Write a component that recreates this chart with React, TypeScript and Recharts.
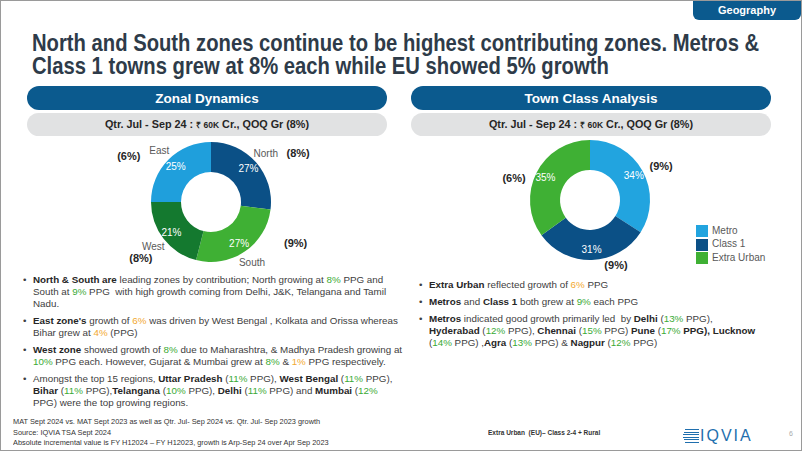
import React from "react";
import { PieChart, Pie, Cell, Legend } from "recharts";

// zonal split, clockwise from 12 o'clock
const zoneNames = ["North", "South", "West", "East"];
const zoneShare = [27, 27, 21, 25];
const zoneGrowth = [8, 9, 8, 6];

// town class split
const townNames = ["Metro", "Class 1", "Extra Urban"];
const townShare = [34, 31, 35];
const townGrowth = [9, 9, 6];

const zoneColors = ["#0b5086", "#3fb034", "#14792f", "#1f9fdc"];
const townColors = ["#22a4df", "#0b5086", "#3fb034"];

// where the growth call-outs sit (radius + turn from the slice middle)
const zoneGrowthPos = [
  { r: 100, turn: -12 },
  { r: 94, turn: 30 },
  { r: 90, turn: 1 },
  { r: 94, turn: 16 },
];
const townGrowthPos = [
  { r: 79, turn: -3 },
  { r: 70, turn: 20 },
  { r: 79, turn: 11 },
];

const zoneData = zoneNames.map((name, i) => ({ name, value: zoneShare[i], growth: zoneGrowth[i] }));
const townData = townNames.map((name, i) => ({ name, value: townShare[i], growth: townGrowth[i] }));

const BLUE = "#0b5a8e";
const GREEN = "#3aaa35";
const ORANGE = "#f2a930";
const TEXT = "#404040";
const SANS = '"Liberation Sans", Arial, sans-serif';

const RAD = Math.PI / 180;
function polar(cx: number, cy: number, r: number, deg: number) {
  return [cx + r * Math.cos(-deg * RAD), cy + r * Math.sin(-deg * RAD)];
}

function makeLabel(showName: boolean, pos: { r: number; turn: number }[]) {
  return (p: any) => {
    const { cx, cy, midAngle, index, payload } = p;
    const [ix, iy] = polar(cx, cy, 50, midAngle);
    const [nx, ny] = polar(cx, cy, 73, midAngle);
    const g = pos[index];
    const [gx, gy] = polar(cx, cy, g.r, midAngle + g.turn);
    return (
      <g key={`lbl-${index}`}>
        <text x={ix} y={iy} fill="#fff" fontSize={10} fontFamily={SANS} textAnchor="middle" dominantBaseline="central">
          {payload.value}%
        </text>
        {showName && (
          <text x={nx} y={ny} fill="#595959" fontSize={10} fontFamily={SANS} textAnchor="middle" dominantBaseline="central">
            {payload.name}
          </text>
        )}
        <text x={gx} y={gy} fill="#262626" fontSize={11} fontWeight="bold" fontFamily={SANS} textAnchor="middle" dominantBaseline="central">
          ({payload.growth}%)
        </text>
      </g>
    );
  };
}

const B = ({ children }: { children: React.ReactNode }) => <b style={{ color: "#262626" }}>{children}</b>;
const G = ({ children }: { children: React.ReactNode }) => <span style={{ color: GREEN }}>{children}</span>;
const O = ({ children }: { children: React.ReactNode }) => <span style={{ color: ORANGE }}>{children}</span>;

function Bullet({ children }: { children: React.ReactNode }) {
  return (
    <div style={{ display: "flex", marginBottom: 5 }}>
      <span style={{ width: 10, flex: "none" }}>•</span>
      <div style={{ whiteSpace: "nowrap" }}>{children}</div>
    </div>
  );
}

function Pill({ left, title }: { left: number; title: string }) {
  return (
    <>
      <div
        style={{
          position: "absolute", left, top: 85, width: 360, height: 24, borderRadius: 12,
          background: BLUE, color: "#fff", fontWeight: "bold", fontSize: 13.5,
          display: "flex", alignItems: "center", justifyContent: "center",
        }}
      >
        {title}
      </div>
      <div
        style={{
          position: "absolute", left, top: 112, width: 360, height: 23, borderRadius: 12,
          background: "#e1e2e3", color: "#262626", fontWeight: "bold", fontSize: 10.8,
          lineHeight: "23px", textAlign: "center", whiteSpace: "nowrap",
        }}
      >
        Qtr. Jul - Sep 24 : <span style={{ fontSize: 8.5 }}>₹ 60K</span> Cr., QOQ Gr (8%)
      </div>
    </>
  );
}

// narrow-looking text: no condensed face installed, so squeeze horizontally
const squeeze = (k: number): React.CSSProperties => ({ transform: `scaleX(${k})`, transformOrigin: "left top" });

const titleLine: React.CSSProperties = {
  fontWeight: "bold", fontSize: 24, lineHeight: "23px", height: 23, color: "#2e3b49", whiteSpace: "nowrap",
};

export default function App() {
  return (
    <div
      style={{
        position: "relative", width: 802, height: 451, boxSizing: "border-box",
        border: "1px solid #9a9a9a", background: "#fff", fontFamily: SANS, color: TEXT, overflow: "hidden",
      }}
    >
      <style>{"body{margin:0}"}</style>

      {/* tab */}
      <div
        style={{
          position: "absolute", left: 692, top: -1, width: 108, height: 20,
          background: BLUE, borderRadius: "0 0 6px 6px", color: "#fff", fontWeight: "bold",
          fontSize: 11, display: "flex", alignItems: "center", justifyContent: "center",
        }}
      >
        Geography
      </div>

      {/* title */}
      <div style={{ position: "absolute", left: 31, top: 30, ...squeeze(0.843) }}>
        <div style={titleLine}>North and South zones continue to be highest contributing zones. Metros &amp;</div>
        <div style={titleLine}>Class 1 towns grew at 8% each while EU showed 5% growth</div>
      </div>

      <Pill left={26} title="Zonal Dynamics" />
      <Pill left={410} title="Town Class Analysis" />

      {/* zonal donut */}
      <div style={{ position: "absolute", left: 20, top: 135 }}>
        <PieChart width={380} height={140}>
          <Pie
            data={zoneData}
            dataKey="value"
            nameKey="name"
            cx={185}
            cy={61}
            innerRadius={30}
            outerRadius={60}
            startAngle={90}
            endAngle={-270}
            stroke="none"
            labelLine={false}
            label={makeLabel(true, zoneGrowthPos)}
            isAnimationActive={false}
          >
            {zoneData.map((d, i) => (
              <Cell key={d.name} fill={zoneColors[i]} />
            ))}
          </Pie>
        </PieChart>
      </div>

      {/* town class donut */}
      <div style={{ position: "absolute", left: 400, top: 135 }}>
        <PieChart width={400} height={145}>
          <Pie
            data={townData}
            dataKey="value"
            nameKey="name"
            cx={184}
            cy={59}
            innerRadius={30}
            outerRadius={60}
            startAngle={90}
            endAngle={-270}
            stroke="none"
            labelLine={false}
            label={makeLabel(false, townGrowthPos)}
            isAnimationActive={false}
          >
            {townData.map((d, i) => (
              <Cell key={d.name} fill={townColors[i]} />
            ))}
          </Pie>
          <Legend
            layout="vertical"
            verticalAlign="top"
            align="right"
            iconType="square"
            iconSize={12}
            itemSorter={(item: any) => townNames.indexOf(item.value)}
            wrapperStyle={{ left: 295, top: 88, width: 100, fontSize: 10, lineHeight: "13px" }}
            formatter={(v: string) => <span style={{ color: "#595959" }}>{v}</span>}
          />
        </PieChart>
      </div>

      {/* left commentary */}
      <div style={{ position: "absolute", left: 22, top: 273, fontSize: 9.8, lineHeight: "12px", width: 380, overflow: "hidden" }}>
        <Bullet>
          <B>North &amp; South are</B> leading zones by contribution; North growing at <G>8%</G> PPG and
          <br />
          South at <G>9%</G> PPG&nbsp; with high growth coming from Delhi, J&amp;K, Telangana and Tamil
          <br />
          Nadu.
        </Bullet>
        <Bullet>
          <B>East zone's</B> growth of <O>6%</O> was driven by West Bengal , Kolkata and Orissa whereas
          <br />
          Bihar grew at <O>4%</O> (PPG)
        </Bullet>
        <Bullet>
          <B>West zone</B> showed growth of <G>8%</G> due to Maharashtra, &amp; Madhya Pradesh growing at
          <br />
          <G>10%</G> PPG each. However, Gujarat &amp; Mumbai grew at <G>8%</G> &amp; <O>1%</O> PPG respectively.
        </Bullet>
        <Bullet>
          Amongst the top 15 regions, <B>Uttar Pradesh</B> (<G>11%</G> PPG), <B>West Bengal</B> (<G>11%</G> PPG),
          <br />
          <B>Bihar</B> (<G>11%</G> PPG),<B>Telangana</B> (<G>10%</G> PPG), <B>Delhi</B> (<G>11%</G> PPG) and <B>Mumbai</B> (<G>12%</G>
          <br />
          PPG) were the top growing regions.
        </Bullet>
      </div>

      {/* right commentary */}
      <div style={{ position: "absolute", left: 418, top: 278, fontSize: 9.8, lineHeight: "12px", width: 380 }}>
        <Bullet>
          <B>Extra Urban</B> reflected growth of <O>6%</O> PPG
        </Bullet>
        <Bullet>
          <B>Metros</B> and <B>Class 1</B> both grew at <G>9%</G> each PPG
        </Bullet>
        <Bullet>
          <B>Metros</B> indicated good growth primarily led&nbsp; by <B>Delhi</B> (<G>13%</G> PPG),
          <br />
          <B>Hyderabad</B> (<G>12%</G> PPG), <B>Chennai</B> (<G>15%</G> PPG) <B>Pune</B> (<G>17%</G> <B>PPG), Lucknow</B>
          <br />
          (<G>14%</G> PPG) ,<B>Agra</B> (<G>13%</G> PPG) &amp; <B>Nagpur</B> (<G>12%</G> PPG)
        </Bullet>
      </div>

      {/* footnotes */}
      <div
        style={{
          position: "absolute", left: 12, top: 416, fontSize: 8,
          lineHeight: "10.5px", color: "#333", whiteSpace: "nowrap", ...squeeze(0.92),
        }}
      >
        MAT Sept 2024 vs. MAT Sept 2023 as well as Qtr. Jul- Sep 2024 vs. Qtr. Jul- Sep 2023 growth
        <br />
        Source: IQVIA TSA Sept 2024
        <br />
        Absolute incremental value is FY H12024 – FY H12023, growth is Arp-Sep 24 over Apr Sep 2023
      </div>
      <div
        style={{
          position: "absolute", left: 487, top: 427, fontSize: 7.5,
          fontWeight: "bold", color: "#333", whiteSpace: "nowrap", ...squeeze(0.87),
        }}
      >
        Extra Urban&nbsp; (EU)– Class 2-4 + Rural
      </div>

      {/* logo */}
      <div style={{ position: "absolute", left: 682, top: 428, display: "flex", alignItems: "center" }}>
        <div style={{ display: "flex", flexDirection: "column", gap: 1.5, marginRight: 1 }}>
          {[14, 15, 16, 16, 15, 14].map((w, i) => (
            <div key={i} style={{ width: w, height: 1, background: "#1f6fae", marginLeft: 16 - w }} />
          ))}
        </div>
        <span style={{ color: "#1f6fae", fontSize: 16, letterSpacing: 2, lineHeight: "14px" }}>IQVIA</span>
      </div>
      <div style={{ position: "absolute", left: 788, top: 429, fontSize: 7, color: "#aaa" }}>6</div>
    </div>
  );
}
